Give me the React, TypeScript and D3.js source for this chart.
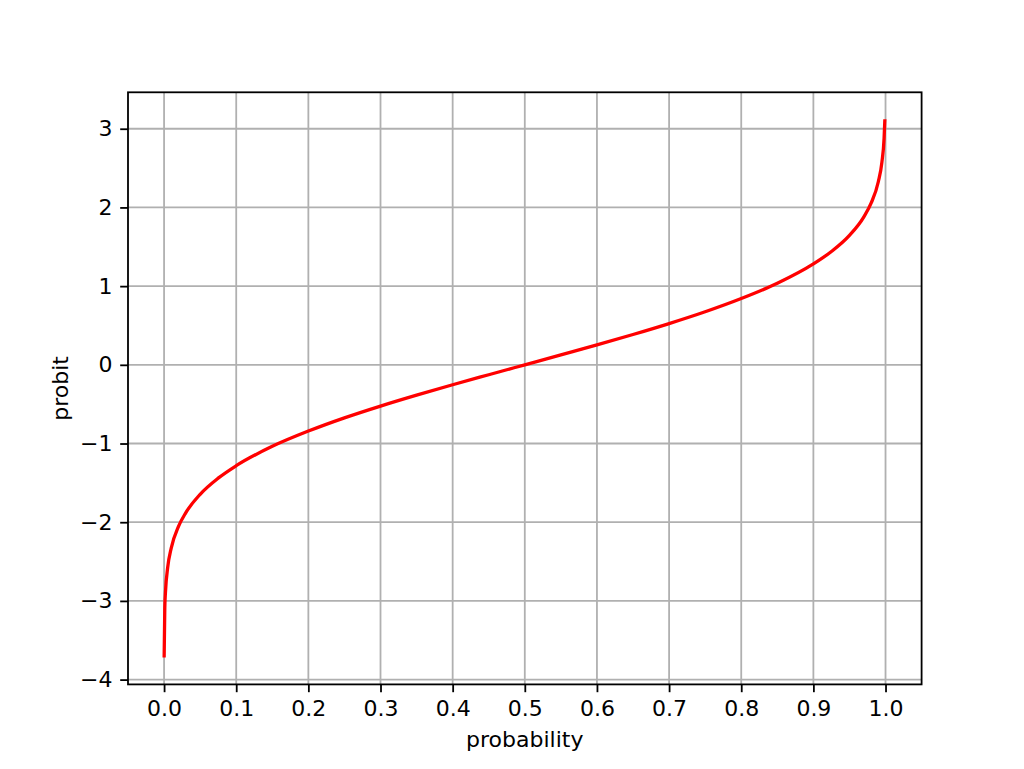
import { useEffect, useRef } from 'react';
import * as d3 from "d3";

// values
const probability = [0.0001, 0.001, 0.002, 0.005, 0.01, 0.02, 0.03, 0.05, 0.075, 0.1, 0.15, 0.2, 0.25, 0.3, 0.35, 0.4, 0.45, 0.5, 0.55, 0.6, 0.65, 0.7, 0.75, 0.8, 0.85, 0.9, 0.925, 0.95, 0.97, 0.98, 0.99, 0.995, 0.998, 0.9991];
const probit = [-3.719, -3.09, -2.878, -2.576, -2.326, -2.054, -1.881, -1.645, -1.44, -1.282, -1.036, -0.842, -0.674, -0.524, -0.385, -0.253, -0.126, 0, 0.126, 0.253, 0.385, 0.524, 0.674, 0.842, 1.036, 1.282, 1.44, 1.645, 1.881, 2.054, 2.326, 2.576, 2.878, 3.121];

const xTicks = [0, 0.1, 0.2, 0.3, 0.4, 0.5, 0.6, 0.7, 0.8, 0.9, 1.0];
const yTicks = [-4, -3, -2, -1, 0, 1, 2, 3];

export default function App() {
  const chartRef = useRef<SVGSVGElement>(null);

  useEffect(() => {
    if (!chartRef.current) return;
    d3.select(chartRef.current).selectAll("*").remove();

    const width = 1024;
    const height = 769;
    const marginLeft = 128;
    const marginRight = 102.4;
    const marginTop = 92.3;
    const marginBottom = 84.6;
    const font = "DejaVu Sans, sans-serif";

    const x = d3.scaleLinear()
      .domain([-0.05, 1.05])
      .range([marginLeft, width - marginRight]);

    const yMin = -3.719, yMax = 3.121, pad = (yMax - yMin) * 0.05;
    const y = d3.scaleLinear()
      .domain([yMin - pad, yMax + pad])
      .range([height - marginBottom, marginTop]);

    const svg = d3.select(chartRef.current)
      .attr("viewBox", [0, 0, width, height])
      .attr("width", width)
      .attr("height", height);

    svg.append("rect")
      .attr("width", width)
      .attr("height", height)
      .attr("fill", "white");

    // grid
    const grid = svg.append("g")
      .attr("stroke", "#b0b0b0")
      .attr("stroke-width", 1.8);
    grid.selectAll(".gx")
      .data(xTicks)
      .join("line")
      .attr("x1", d => x(d)).attr("x2", d => x(d))
      .attr("y1", marginTop).attr("y2", height - marginBottom);
    grid.selectAll(".gy")
      .data(yTicks)
      .join("line")
      .attr("y1", d => y(d)).attr("y2", d => y(d))
      .attr("x1", marginLeft).attr("x2", width - marginRight);

    // curve
    const pts = probability.map((p, i) => [p, probit[i]] as [number, number]);
    const line = d3.line<[number, number]>()
      .x(d => x(d[0]))
      .y(d => y(d[1]))
      .curve(d3.curveMonotoneX);
    svg.append("path")
      .datum(pts)
      .attr("fill", "none")
      .attr("stroke", "red")
      .attr("stroke-width", 3.3)
      .attr("stroke-linecap", "butt")
      .attr("d", line);

    // axes
    const xAxis = svg.append("g")
      .attr("transform", `translate(0,${height - marginBottom})`)
      .call(d3.axisBottom(x).tickValues(xTicks).tickFormat(d3.format(".1f")).tickSize(7.8).tickPadding(7.8));
    const yAxis = svg.append("g")
      .attr("transform", `translate(${marginLeft},0)`)
      .call(d3.axisLeft(y).tickValues(yTicks).tickFormat(d => String(d).replace("-", "\u2212")).tickSize(7.8).tickPadding(7.8));

    [xAxis, yAxis].forEach(g => {
      g.select(".domain").remove();
      g.selectAll(".tick line").attr("stroke", "black").attr("stroke-width", 1.8);
      g.selectAll(".tick text")
        .attr("fill", "black")
        .style("font-family", font)
        .style("font-size", "22px");
    });

    // frame
    svg.append("rect")
      .attr("x", marginLeft)
      .attr("y", marginTop)
      .attr("width", width - marginLeft - marginRight)
      .attr("height", height - marginTop - marginBottom)
      .attr("fill", "none")
      .attr("stroke", "black")
      .attr("stroke-width", 1.8);

    // labels
    svg.append("text")
      .attr("text-anchor", "middle")
      .attr("x", (marginLeft + width - marginRight) / 2)
      .attr("y", 747)
      .style("font-family", font)
      .style("font-size", "22px")
      .attr("fill", "black")
      .text("probability");

    svg.append("text")
      .attr("text-anchor", "middle")
      .attr("transform", `translate(68,${(marginTop + height - marginBottom) / 2}) rotate(-90)`)
      .style("font-family", font)
      .style("font-size", "22px")
      .attr("fill", "black")
      .text("probit");
  }, []);

  return (
    <svg ref={chartRef} style={{ position: "absolute", left: 0, top: 0 }}></svg>
  );
}
